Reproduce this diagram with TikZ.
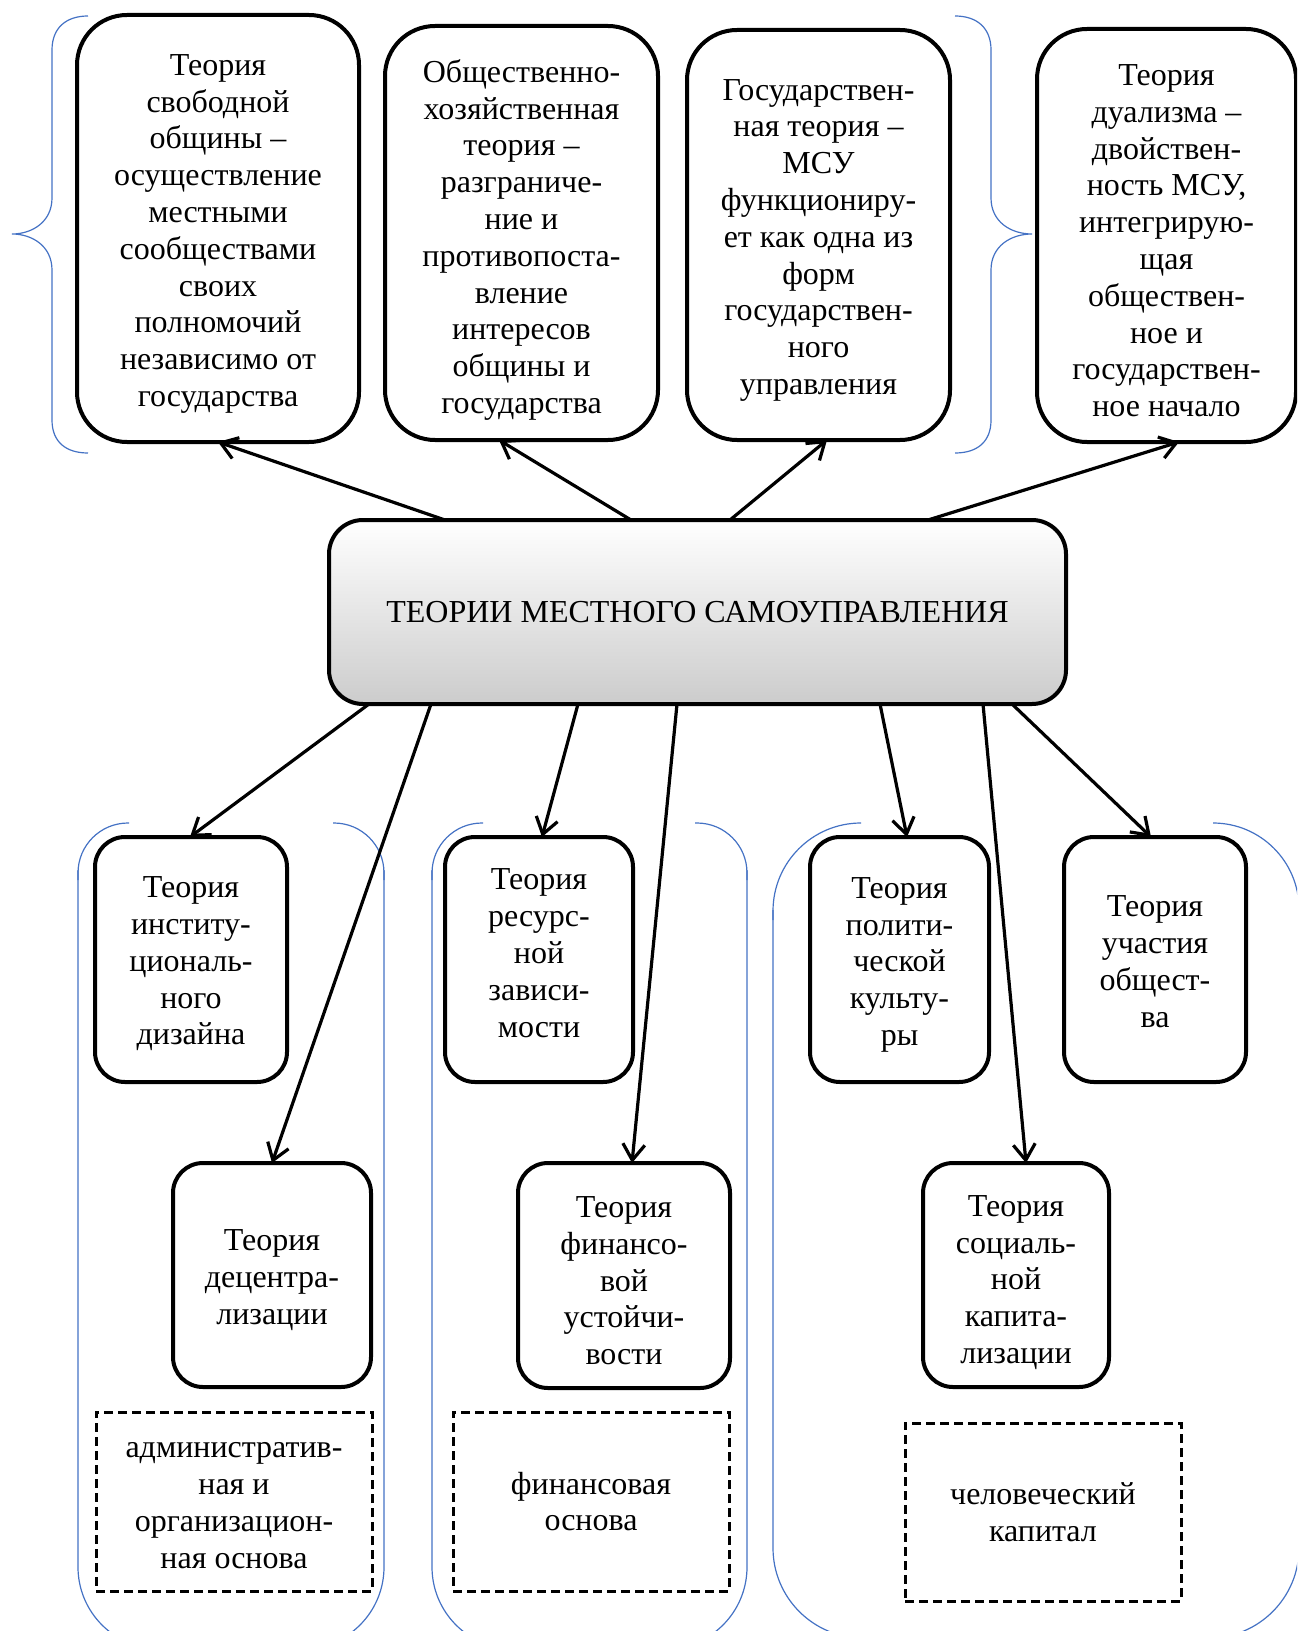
\documentclass[tikz,border=0pt]{standalone}
\usepackage{fontspec}
\setmainfont{Liberation Serif}
\usetikzlibrary{arrows.meta}
\definecolor{groupblue}{RGB}{68,114,196}
\newcommand{\boxfont}{\fontsize{16}{18.4}\selectfont}
% struts that trim the vertical placement of a node's text block
\newcommand{\topstrut}[1]{\rule{0pt}{#1pt}}
\newcommand{\bottomstrut}[1]{\rule[-#1pt]{0pt}{#1pt}}
\begin{document}
\begin{tikzpicture}[x=0.5pt,y=-0.5pt,
  span/.style n args={4}{at={({(#1+#3)/2},{(#2+#4)/2})},
    minimum width={(#3-#1)*0.5pt}, minimum height={(#4-#2)*0.5pt}},
  box/.style={draw, line width=2pt, inner sep=0pt, outer sep=0pt, align=center, font=\boxfont, fill=white},
  topbox/.style={box, rounded corners=25pt},
  lowbox/.style={box, rounded corners=15pt},
  centerbox/.style={box, rounded corners=17pt, top color=white, bottom color=black!20},
  basebox/.style={box, line width=1.5pt, dash pattern=on 4.5pt off 2.5pt},
  bluebracket/.style={draw=groupblue, line width=0.6pt},
  arr/.style={line width=1.6pt, -{Straight Barb[length=8pt,width=11pt]}},
]
\useasboundingbox (0,0) rectangle (1297,1631);
\clip (0,0) rectangle (1297,1631);

% braces grouping the upper theories
\draw[bluebracket] (88,16) .. controls (66,16) and (52,28) .. (52,50) -- (52,198)
  .. controls (52,222) and (32,234) .. (12,234)
  .. controls (32,234) and (52,246) .. (52,270) -- (52,420)
  .. controls (52,442) and (66,453) .. (88,453);
\draw[bluebracket] (955,16) .. controls (977,16) and (991,28) .. (991,50) -- (991,198)
  .. controls (991,222) and (1011,234) .. (1032,234)
  .. controls (1011,234) and (991,246) .. (991,270) -- (991,420)
  .. controls (991,442) and (977,453) .. (955,453);

% groups of the lower theories
\draw[bluebracket, rounded corners=25pt] (129,823) -- (78,823) -- (78,880);
\draw[bluebracket, rounded corners=41pt] (78,870) -- (78,1649) -- (384,1649) -- (384,870);
\draw[bluebracket, rounded corners=25pt] (384,880) -- (384,823) -- (333,823);

\draw[bluebracket, rounded corners=25pt] (483,823) -- (432,823) -- (432,880);
\draw[bluebracket, rounded corners=41pt] (432,870) -- (432,1649) -- (747,1649) -- (747,870);
\draw[bluebracket, rounded corners=25pt] (747,880) -- (747,823) -- (695,823);

\draw[bluebracket, rounded corners=44pt] (861,823) -- (773,823) -- (773,920);
\draw[bluebracket, rounded corners=45pt] (773,910) -- (773,1638) -- (1299,1638) -- (1299,910);
\draw[bluebracket, rounded corners=43pt] (1299,920) -- (1299,823) -- (1213,823);

% central node
\node[centerbox, span={329}{520}{1066}{704}] (c) {ТЕОРИИ МЕСТНОГО САМОУПРАВЛЕНИЯ};

% upper theories
\node[topbox, span={77}{15}{359}{442}] (t1) {\topstrut{15.8}Теория\\свободной\\общины –\\осуществление\\местными\\сообществами\\своих\\полномочий\\независимо от\\государства};
\node[topbox, span={385}{26}{658}{440}] (t2) {\topstrut{18.3}Общественно-\\хозяйственная\\теория –\\разграниче-\\ние и\\противопоста-\\вление\\интересов\\общины и\\государства};
\node[topbox, span={687}{30}{950}{440}] (t3) {\topstrut{15.8}Государствен-\\ная теория –\\МСУ\\функциониру-\\ет как одна из\\форм\\государствен-\\ного\\управления};
\node[topbox, span={1037}{29}{1296}{442}] (t4) {\topstrut{15.8}Теория\\дуализма –\\двойствен-\\ность МСУ,\\интегрирую-\\щая\\обществен-\\ное и\\государствен-\\ное начало};

% lower theories
\node[lowbox, span={95}{837}{287}{1082}] (b1) {\topstrut{14.8}Теория\\институ-\\циональ-\\ного\\дизайна};
\node[lowbox, span={445}{837}{633}{1082}] (b2) {Теория\\ресурс-\\ной\\зависи-\\мости\bottomstrut{6.4}};
\node[lowbox, span={810}{837}{989}{1082}] (b3) {\topstrut{15.8}Теория\\полити-\\ческой\\культу-\\ры};
\node[lowbox, span={1064}{837}{1246}{1082}] (b4) {\topstrut{12.7}Теория\\участия\\общест-\\ва};
\node[lowbox, span={173}{1163}{371}{1387}] (b5) {\topstrut{15.8}Теория\\децентра-\\лизации};
\node[lowbox, span={518}{1163}{730}{1388}] (b6) {\topstrut{15.8}Теория\\финансо-\\вой\\устойчи-\\вости};
\node[lowbox, span={923}{1163}{1109}{1387}] (b7) {\topstrut{17.9}Теория\\социаль-\\ной\\капита-\\лизации};

% foundations
\node[basebox, span={96}{1412}{372}{1591}] (d1) {\topstrut{11.6}административ-\\ная и\\организацион-\\ная основа};
\node[basebox, span={453}{1412}{729}{1591}] (d2) {финансовая\\основа};
\node[basebox, span={905}{1423}{1181}{1601}] (d3) {человеческий\\капитал};

% connectors
\draw[arr] (445,0 |- c.north) -- (218,0 |- t1.south);
\draw[arr] (631,0 |- c.north) -- (499,0 |- t2.south);
\draw[arr] (730,0 |- c.north) -- (827,0 |- t3.south);
\draw[arr] (928,0 |- c.north) -- (1179,0 |- t4.south);

\draw[arr] (369,0 |- c.south) -- (190,0 |- b1.north);
\draw[arr] (431,0 |- c.south) -- (272,0 |- b5.north);
\draw[arr] (578,0 |- c.south) -- (542,0 |- b2.north);
\draw[arr] (677,0 |- c.south) -- (632,0 |- b6.north);
\draw[arr] (880,0 |- c.south) -- (907,0 |- b3.north);
\draw[arr] (983,0 |- c.south) -- (1026,0 |- b7.north);
\draw[arr] (1012,0 |- c.south) -- (1151,0 |- b4.north);
\end{tikzpicture}
\end{document}
